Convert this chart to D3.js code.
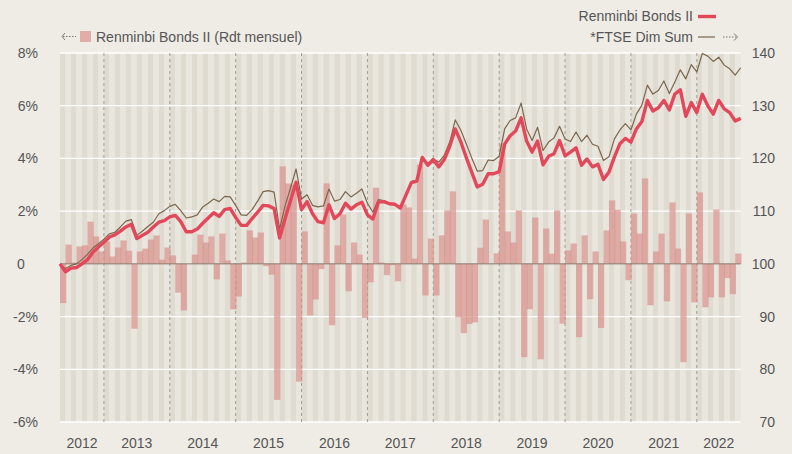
<!DOCTYPE html>
<html>
<head>
<meta charset="utf-8">
<script src="https://cdn.jsdelivr.net/npm/d3@7"></script>
<style>
body { margin: 0; background: #efece6; }
text { font-family: "Liberation Sans", Arial, sans-serif; font-size: 14px; fill: #555; }
</style>
</head>
<body>
<div id="box-div"></div>
<script>
// first month on the axis is May 2012
const startYear = 2012
const startMonth = 5
const years = [2012, 2013, 2014, 2015, 2016, 2017, 2018, 2019, 2020, 2021, 2022]
const leftTicks = [-6, -4, -2, 0, 2, 4, 6, 8]
const rightTicks = [70, 80, 90, 100, 110, 120, 130, 140]

// Renminbi Bonds II, monthly return in %
const monthly = [
  -1.49, 0.73, 0.05, 0.66, 0.70, 1.60, 1.04, 0.47, 0.85, 0.28, 0.62, 0.89,
  0.50, -2.46, 0.47, 0.58, 0.92, 1.08, 0.16, 0.62, 0.32, -1.09, -1.77, 0.00,
  0.35, 1.11, 0.81, 1.04, -0.59, 1.15, 0.13, -1.73, -1.24, 0.05, 1.27, 1.00,
  1.19, -0.09, -0.41, -5.16, 3.70, 3.05, 3.00, -4.47, 1.23, -1.96, -1.35, -0.20,
  3.05, -2.33, 0.70, 1.87, -1.04, 0.81, 0.35, -2.05, -0.70, 2.89, 0.05, -0.43,
  -0.05, -0.66, 2.25, 2.14, 0.20, 3.77, -1.20, 0.96, -1.20, 1.08, 2.03, 2.75,
  -2.03, -2.63, -2.28, -2.22, 0.61, 1.68, 0.00, 0.40, 4.56, 1.23, 0.81, 2.03,
  -3.54, -1.72, 1.76, -3.62, 1.34, 0.39, 2.03, -2.27, 0.51, 0.77, -2.78, 1.08,
  -1.34, 0.47, -2.43, 1.27, 2.41, 2.05, 0.85, -0.62, 1.91, 1.15, 3.24, -1.57,
  0.47, 1.15, -1.42, 2.33, 0.58, -3.73, 1.91, -1.46, 2.71, -1.65, -1.27, 2.06,
  -1.27, -0.54, -1.15, 0.39
]

// Renminbi Bonds II, base 100
const fund = [
  100.0, 98.5, 99.2, 99.3, 100.0, 100.8, 102.2, 103.2, 104.1, 105.1, 105.5, 106.2,
  107.0, 107.5, 104.8, 105.4, 106.0, 107.0, 107.9, 108.2, 108.9, 109.2, 108.0, 106.1,
  106.1, 106.6, 107.7, 108.7, 109.7, 109.0, 110.3, 110.5, 108.8, 107.3, 107.3, 108.6,
  109.8, 111.1, 111.0, 110.5, 104.9, 108.6, 112.0, 115.5, 110.3, 111.8, 109.5, 108.0,
  107.8, 111.2, 108.6, 109.5, 111.5, 110.4, 111.2, 111.7, 109.3, 108.5, 111.7, 111.8,
  111.4, 111.3, 110.6, 113.0, 115.4, 115.7, 120.2, 118.7, 119.8, 118.4, 119.8, 122.3,
  125.6, 123.2, 120.2, 117.4, 114.6, 115.1, 117.1, 117.1, 117.5, 122.7, 124.3, 125.2,
  127.7, 123.3, 121.2, 123.3, 118.8, 120.4, 120.9, 123.4, 120.5, 121.2, 122.0, 118.7,
  119.9, 118.4, 118.9, 116.0, 117.4, 120.3, 122.8, 123.8, 123.1, 125.6, 127.0, 131.0,
  129.0, 129.6, 131.0, 129.2, 132.2, 133.0, 128.0, 130.6, 128.7, 132.2, 130.0, 128.4,
  131.0, 129.4, 128.7, 127.1, 127.6
]

// *FTSE Dim Sum, base 100
const ftse = [
  100.0, 99.1, 99.7, 100.0, 100.8, 101.8, 103.0, 103.8, 104.7, 105.7, 106.0, 107.0,
  108.1, 108.4, 105.4, 106.2, 107.1, 107.9, 109.5, 110.1, 110.9, 111.3, 110.1, 108.7,
  108.9, 109.3, 110.8, 111.5, 112.3, 111.8, 112.8, 112.7, 111.1, 109.3, 109.2, 110.3,
  111.9, 113.7, 113.9, 113.6, 106.6, 111.0, 114.4, 118.0, 112.3, 113.1, 111.1, 110.8,
  111.0, 114.2, 111.9, 112.2, 113.7, 112.7, 113.4, 114.2, 111.5, 109.8, 112.2, 112.0,
  111.5, 111.4, 110.6, 113.0, 115.6, 115.9, 120.3, 118.9, 119.9, 119.3, 120.6, 123.1,
  127.3, 125.4, 122.8, 120.1, 117.6, 117.7, 119.7, 119.6, 120.4, 125.6, 127.2, 127.7,
  130.5, 125.6, 123.4, 125.9, 121.5, 123.1, 123.9, 126.1, 123.7, 123.2, 125.0, 123.2,
  124.4, 122.7, 122.3, 119.6, 120.3, 123.7, 125.4, 126.6, 125.4, 128.4, 130.1, 133.9,
  132.2, 132.9, 134.7, 132.3, 134.5, 136.8, 135.1, 137.8, 136.4, 139.9, 139.4, 138.4,
  139.2, 137.7, 137.0, 135.8, 137.2
]

let dms = {
  width: 792,
  height: 454,
  left: 60,
  right: 740.7,
  top: 53,
  bottom: 422
}

const svg = d3.select('#box-div').append('svg')
  .attr('width', dms.width)
  .attr('height', dms.height)

const n = monthly.length
const x = d3.scaleLinear().domain([0, n]).range([dms.left, dms.right])
const yL = d3.scaleLinear().domain([-6, 8]).range([dms.bottom, dms.top])
const yR = d3.scaleLinear().domain([70, 140]).range([dms.bottom, dms.top])
const step = x(1) - x(0)

// month stripes
svg.append('g').selectAll('rect')
  .data(d3.range(n))
  .join('rect')
  .attr('x', d => x(d))
  .attr('y', dms.top)
  .attr('width', step)
  .attr('height', dms.bottom - dms.top)
  .attr('fill', d => d % 2 === 0 ? '#dfdbd1' : '#e9e6de')

// white grid lines
svg.append('g').selectAll('line')
  .data(leftTicks.filter(d => d !== 0))
  .join('line')
  .attr('x1', dms.left).attr('x2', dms.right)
  .attr('y1', d => yL(d)).attr('y2', d => yL(d))
  .attr('stroke', '#fff').attr('stroke-width', 1.3)

// year separators
const janIndex = y => (y - startYear) * 12 - (startMonth - 1)
svg.append('g').selectAll('line')
  .data(years.filter(y => janIndex(y) > 0))
  .join('line')
  .attr('x1', y => x(janIndex(y))).attr('x2', y => x(janIndex(y)))
  .attr('y1', dms.top).attr('y2', dms.bottom)
  .attr('stroke', '#a29d94').attr('stroke-width', 1)
  .attr('stroke-dasharray', '3,3')

// monthly bars
svg.append('g').selectAll('rect')
  .data(monthly)
  .join('rect')
  .attr('x', (d, i) => x(i))
  .attr('y', d => yL(Math.max(0, d)))
  .attr('width', step + 0.8)
  .attr('height', d => Math.abs(yL(d) - yL(0)))
  .attr('fill', '#d98f8b')
  .attr('fill-opacity', 0.68)

// zero line
svg.append('line')
  .attr('x1', dms.left).attr('x2', dms.right)
  .attr('y1', yL(0)).attr('y2', yL(0))
  .attr('stroke', '#8b7a6e').attr('stroke-width', 1)

const line = d3.line().x((d, i) => x(i)).y(d => yR(d))

svg.append('path')
  .datum(ftse)
  .attr('d', line)
  .attr('fill', 'none')
  .attr('stroke', '#7a664b')
  .attr('stroke-width', 1.2)
  .attr('stroke-linejoin', 'round')

svg.append('path')
  .datum(fund)
  .attr('d', line)
  .attr('fill', 'none')
  .attr('stroke', '#e2485a')
  .attr('stroke-width', 3.4)
  .attr('stroke-linejoin', 'round')

// left axis labels
svg.append('g').selectAll('text')
  .data(leftTicks)
  .join('text')
  .attr('x', d => d === 0 ? 17 : 38)
  .attr('y', d => yL(d))
  .attr('dy', '0.36em')
  .attr('text-anchor', d => d === 0 ? 'start' : 'end')
  .text(d => d === 0 ? '0' : d + '%')

// right axis labels
svg.append('g').selectAll('text')
  .data(rightTicks)
  .join('text')
  .attr('x', 775)
  .attr('y', d => yR(d))
  .attr('dy', '0.36em')
  .attr('text-anchor', 'end')
  .text(d => d)

// year labels
svg.append('g').selectAll('text')
  .data(years)
  .join('text')
  .attr('x', y => x((Math.max(0, janIndex(y)) + Math.min(n, janIndex(y) + 12)) / 2))
  .attr('y', 448)
  .attr('text-anchor', 'middle')
  .text(y => y)

// legends
const arrowColor = '#777'
const lg = svg.append('g')
lg.append('path')
  .attr('d', 'M65,33 L62,36.5 L65,40')
  .attr('fill', 'none').attr('stroke', arrowColor).attr('stroke-width', 1)
lg.append('line')
  .attr('x1', 63).attr('x2', 76).attr('y1', 36.5).attr('y2', 36.5)
  .attr('stroke', arrowColor).attr('stroke-width', 1).attr('stroke-dasharray', '1.5,1.5')
lg.append('rect')
  .attr('x', 80).attr('y', 31).attr('width', 11).attr('height', 11)
  .attr('fill', '#d98f8b').attr('fill-opacity', 0.68)
lg.append('text')
  .attr('x', 96).attr('y', 41.5)
  .text('Renminbi Bonds II (Rdt mensuel)')

lg.append('text')
  .attr('x', 693).attr('y', 21)
  .attr('text-anchor', 'end')
  .text('Renminbi Bonds II')
lg.append('line')
  .attr('x1', 698).attr('x2', 716).attr('y1', 16.5).attr('y2', 16.5)
  .attr('stroke', '#e2485a').attr('stroke-width', 3.4)

lg.append('text')
  .attr('x', 693).attr('y', 42)
  .attr('text-anchor', 'end')
  .text('*FTSE Dim Sum')
lg.append('line')
  .attr('x1', 698).attr('x2', 715).attr('y1', 37).attr('y2', 37)
  .attr('stroke', '#7a664b').attr('stroke-width', 1.2)
lg.append('line')
  .attr('x1', 723).attr('x2', 736).attr('y1', 37).attr('y2', 37)
  .attr('stroke', arrowColor).attr('stroke-width', 1).attr('stroke-dasharray', '1.5,1.5')
lg.append('path')
  .attr('d', 'M734,33.5 L737.5,37 L734,40.5')
  .attr('fill', 'none').attr('stroke', arrowColor).attr('stroke-width', 1)
</script>
</body>
</html>
